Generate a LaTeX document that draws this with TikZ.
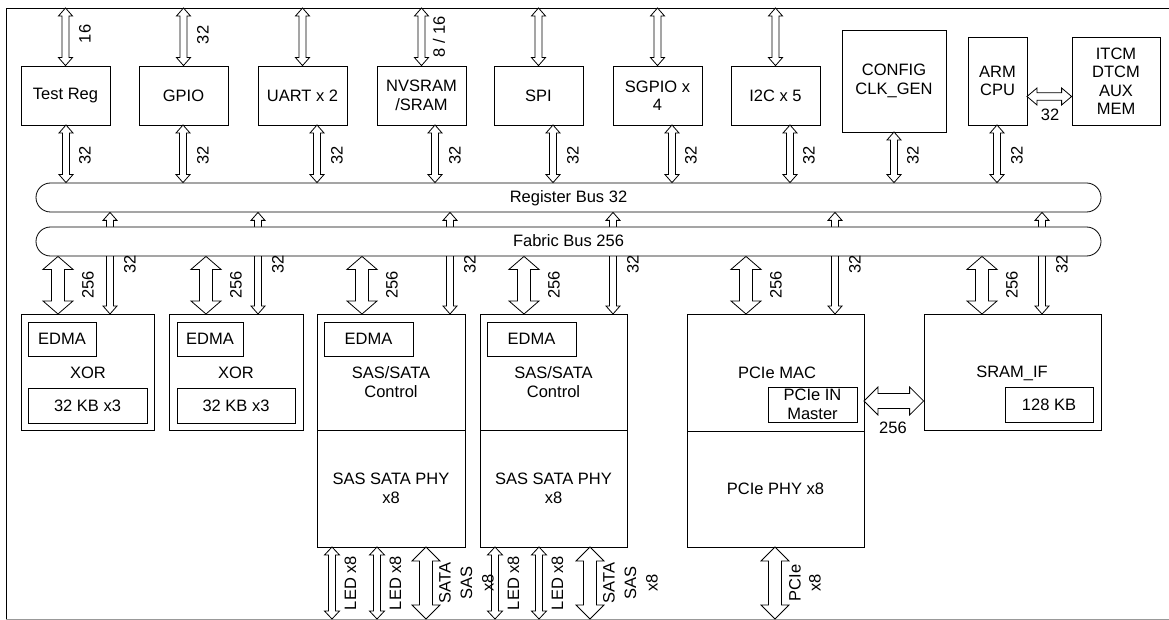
\documentclass[tikz,border=0pt]{standalone}
\usepackage{fontspec}
\setmainfont{Liberation Sans}
\usetikzlibrary{calc,fit}
\pgfdeclarelayer{bg}
\pgfsetlayers{bg,main}
\newcommand\lblfont{\fontsize{16.5}{18.5}\selectfont}
\tikzset{
  box/.style={draw, line width=0.8pt, fill=white, inner sep=0pt, align=center, font=\lblfont},
  sz/.style args={#1x#2}{minimum width=#1, minimum height=#2},
  txt/.style={inner sep=0pt, align=center, font=\lblfont},
  vlbl/.style={txt, rotate=90},
  bus/.style={draw, line width=0.8pt, fill=white, rounded corners=14.5pt, inner sep=0pt, font=\lblfont},
  barrow/.style n args={3}{to path={
    -- ($(\tikztostart)!#3!(\tikztotarget)!#2!90:(\tikztotarget)$)
    -- ($(\tikztostart)!#3!(\tikztotarget)!#1!90:(\tikztotarget)$)
    -- ($(\tikztotarget)!#3!(\tikztostart)!#1!-90:(\tikztostart)$)
    -- ($(\tikztotarget)!#3!(\tikztostart)!#2!-90:(\tikztostart)$)
    -- (\tikztotarget)
    -- ($(\tikztotarget)!#3!(\tikztostart)!#2!90:(\tikztostart)$)
    -- ($(\tikztotarget)!#3!(\tikztostart)!#1!90:(\tikztostart)$)
    -- ($(\tikztostart)!#3!(\tikztotarget)!#1!-90:(\tikztotarget)$)
    -- ($(\tikztostart)!#3!(\tikztotarget)!#2!-90:(\tikztotarget)$)
    -- cycle}},
  narrowarrow/.style={draw, fill=white, line width=0.8pt, barrow={3.5pt}{7pt}{8pt}},
  ledarrow/.style={draw, fill=white, line width=0.8pt, barrow={3.5pt}{7.5pt}{8pt}},
  armarrow/.style={draw, fill=white, line width=0.8pt, barrow={3.7pt}{8.5pt}{10pt}},
  widearrow/.style={draw, fill=white, line width=0.8pt, barrow={6.5pt}{15pt}{13pt}},
  wideharrow/.style={draw, fill=white, line width=0.8pt, barrow={7.5pt}{14pt}{14pt}},
  botarrow/.style={draw, fill=white, line width=0.8pt, barrow={6.5pt}{14pt}{14pt}},
}
\begin{document}
\begin{tikzpicture}[x=1pt,y=-1pt]
\useasboundingbox (0,0) rectangle (1169,620);
% frame
\draw[line width=0.9pt] (1169,8) -- (6,8) -- (6,620);
\draw[line width=1pt, black!40] (6,619) -- (1169,619);
\coordinate (ftl) at (6,8);
\coordinate (fbl) at (6,619);

% top row blocks
\node[box, sz=89x59] (treg) at (65.5,95.5) {Test Reg};
\node[box, sz=89x59] (gpio) at (183.5,95.5) {GPIO};
\node[box, sz=89x59] (uart) at (302.5,95.5) {UART x 2};
\node[box, sz=89x59] (nv) at (421.5,95.5) {NVSRAM\\/SRAM};
\node[box, sz=89x59] (spi) at (538.5,95.5) {SPI};
\node[box, sz=89x59] (sgpio) at (657.5,95.5) {SGPIO x\\4};
\node[box, sz=89x59] (i2c) at (775.5,95.5) {I2C x 5};
\node[box, sz=104x102] (cfg) at (894,81) {CONFIG\\CLK\_GEN};
\node[box, sz=59x88] (arm) at (997.5,81) {ARM\\CPU};
\node[box, sz=88x88] (itcm) at (1116,81) {ITCM\\DTCM\\AUX\\MEM};

% buses
\node[bus, fit={(36,183) (1101,212)}] (rbus) {};
\node[txt] (rbustxt) at (568.5,198) {Register Bus 32};
\node[bus, fit={(36,227) (1101,256)}] (fbus) {};
\node[txt] (fbustxt) at (568.5,241) {Fabric Bus 256};

% top external arrows
\foreach \n in {treg,gpio,uart,nv,spi,sgpio,i2c}
  \path[narrowarrow] (\n.north |- ftl) to (\n.north);
\node[vlbl] (l16) at (85,34) {16};
\node[vlbl] (lg32) at (203,35) {32};
\node[vlbl] (lnv) at (439,37) {8 / 16};

% top row to register bus
\coordinate (b1) at (66,125);
\coordinate (b2) at (183,125);
\coordinate (b3) at (317,125);
\coordinate (b4) at (435,125);
\coordinate (b5) at (553,125);
\coordinate (b6) at (672,125);
\coordinate (b7) at (790,125);
\coordinate (b8) at (894,132);
\coordinate (b9) at (997,125);
\foreach \c/\lx in {b1/85,b2/203,b3/337,b4/455,b5/573,b6/691,b7/809,b8/913,b9/1017}{
  \path[narrowarrow] (\c) to (\c |- rbus.north);
  \node[vlbl] (lbl\c) at (\lx,155) {32};
}

% ARM - ITCM
\coordinate (ah) at (1027,96.5);
\path[armarrow] (ah) to (ah -| itcm.west);
\node[txt] (larm) at (1050,115) {32};

% lower blocks
\node[box, fit={(21,314) (154,430)}] (xor1) {};
\node[box, sz=68x34] (edma1) at (62,339) {EDMA};
\node[txt] (xor1t) at (88,373) {XOR};
\node[box, sz=119x35] (kb1) at (87.5,405.5) {32 KB x3};

\node[box, fit={(169,314) (303,430)}] (xor2) {};
\node[box, sz=66x34] (edma2) at (210,339) {EDMA};
\node[txt] (xor2t) at (236,373) {XOR};
\node[box, sz=118x35] (kb2) at (236,405.5) {32 KB x3};

\node[box, fit={(317,314) (465,430)}] (sas1) {};
\node[box, sz=148x117] (phy1) at (391,488.5) {SAS SATA PHY\\x8};
\node[box, sz=89x34] (edma3) at (368.5,339) {EDMA};
\node[txt] (sas1t) at (391,382) {SAS/SATA\\Control};

\node[box, fit={(480,314) (627,430)}] (sas2) {};
\node[box, sz=147x117] (phy2) at (553.5,488.5) {SAS SATA PHY\\x8};
\node[box, sz=89x34] (edma4) at (531.5,339) {EDMA};
\node[txt] (sas2t) at (553.5,382) {SAS/SATA\\Control};

\node[box, fit={(687,314) (864,431)}] (pcie) {};
\node[box, sz=177x116] (pphy) at (775.5,489) {PCIe PHY x8};
\node[txt] (pciet) at (777,373) {PCIe MAC};
\node[box, sz=89x35] (pim) at (812.5,404.5) {PCIe IN\\Master};

\node[box, fit={(924,314) (1101,430)}] (sram) {};
\node[txt] (sramt) at (1012,373) {SRAM\_IF};
\node[box, sz=88x35] (kb128) at (1049,404.5) {128 KB};

% PCIe - SRAM
\coordinate (ph) at (864,401);
\path[wideharrow] (ph) to (ph -| sram.west);
\node[txt] (l256h) at (893,428) {256};

% fabric 256 arrows
\foreach \x [count=\i] in {58,206,362,524,746,982}{
  \coordinate (w\i) at (\x,314);
  \path[widearrow] (w\i |- fbus.south) to (w\i);
  \node[vlbl] (lw\i) at (\x+30,285) {256};
}
% register 32 arrows (behind fabric bus)
\begin{pgfonlayer}{bg}
\foreach \x [count=\i] in {110,258,450,613,835,1042}{
  \coordinate (r\i) at (\x,314);
  \path[narrowarrow] (r\i |- rbus.south) to (r\i);
}
\end{pgfonlayer}
\foreach \x [count=\i] in {110,258,450,613,835,1042}
  \node[vlbl] (lr\i) at (\x+20,264) {32};

% bottom external arrows
\foreach \x [count=\i] in {332,377,495,539}{
  \coordinate (e\i) at (\x,547);
  \path[ledarrow] (e\i) to (e\i |- fbl);
  \node[vlbl] (le\i) at (\x+18.5,583) {LED x8};
}
\coordinate (s1) at (426,547);
\coordinate (s2) at (590,547);
\coordinate (s3) at (775,547);
\path[botarrow] (s1) to (s1 |- fbl);
\path[botarrow] (s2) to (s2 |- fbl);
\path[botarrow] (s3) to (s3 |- fbl);
\node[vlbl, font=\fontsize{16.5}{21.5}\selectfont] (ls1) at (466.5,583) {SATA\\SAS\\x8};
\node[vlbl, font=\fontsize{16.5}{21.5}\selectfont] (ls2) at (630.5,583) {SATA\\SAS\\x8};
\node[vlbl, font=\fontsize{16.5}{20}\selectfont] (ls3) at (805,583) {PCIe\\x8};
\end{tikzpicture}
\end{document}
